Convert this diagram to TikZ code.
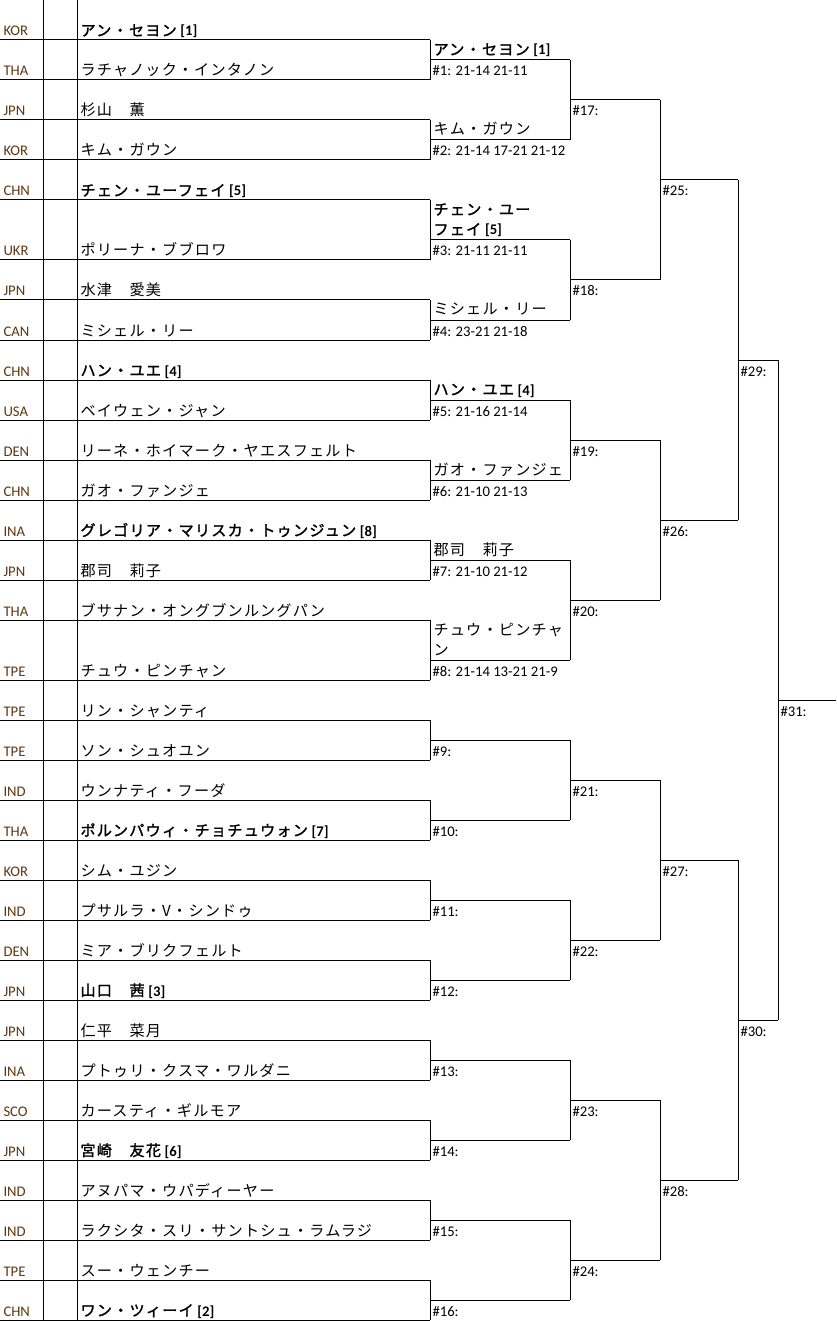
\documentclass[tikz,border=0pt]{standalone}
\usepackage{fontspec}
\setmainfont{Carlito}
\newfontfamily\jp{Noto Sans CJK JP}[LetterSpace=8,Scale=1.03]
\newfontfamily\jpb{Noto Sans CJK JP}[LetterSpace=8,Scale=1.03,FakeBold=1.6]
\definecolor{ctry}{RGB}{95,55,15}
\begin{document}
\begin{tikzpicture}[x=1pt,y=-1pt,line width=1pt,
  lbl/.style={anchor=base west,inner sep=0pt,font=\fontsize{14.7}{17}\selectfont},
  cty/.style={lbl,text=ctry},
  br/.style={draw=black,line width=1pt}]
\useasboundingbox (0,0) rectangle (836,1321);
\draw[br] (43,0) -- (43,1321) (77,0) -- (77,1321);
\foreach \i/\c/\n in {
0/KOR/{{\jpb アン・セヨン}\textbf{\,[1]}},
1/THA/{\jp ラチャノック・インタノン},
2/JPN/{\jp 杉山　薫},
3/KOR/{\jp キム・ガウン},
4/CHN/{{\jpb チェン・ユーフェイ}\textbf{\,[5]}},
5/UKR/{\jp ポリーナ・ブブロワ},
6/JPN/{\jp 水津　愛美},
7/CAN/{\jp ミシェル・リー},
8/CHN/{{\jpb ハン・ユエ}\textbf{\,[4]}},
9/USA/{\jp ベイウェン・ジャン},
10/DEN/{\jp リーネ・ホイマーク・ヤエスフェルト},
11/CHN/{\jp ガオ・ファンジェ},
12/INA/{{\jpb グレゴリア・マリスカ・トゥンジュン}\textbf{\,[8]}},
13/JPN/{\jp 郡司　莉子},
14/THA/{\jp ブサナン・オングブンルングパン},
15/TPE/{\jp チュウ・ピンチャン},
16/TPE/{\jp リン・シャンティ},
17/TPE/{\jp ソン・シュオユン},
18/IND/{\jp ウンナティ・フーダ},
19/THA/{{\jpb ポルンパウィ・チョチュウォン}\textbf{\,[7]}},
20/KOR/{\jp シム・ユジン},
21/IND/{\jp プサルラ・V・シンドゥ},
22/DEN/{\jp ミア・ブリクフェルト},
23/JPN/{{\jpb 山口　茜}\textbf{\,[3]}},
24/JPN/{\jp 仁平　菜月},
25/INA/{\jp プトゥリ・クスマ・ワルダニ},
26/SCO/{\jp カースティ・ギルモア},
27/JPN/{{\jpb 宮崎　友花}\textbf{\,[6]}},
28/IND/{\jp アヌパマ・ウパディーヤー},
29/IND/{\jp ラクシタ・スリ・サントシュ・ラムラジ},
30/TPE/{\jp スー・ウェンチー},
31/CHN/{{\jpb ワン・ツィーイ}\textbf{\,[2]}}}{
  \pgfmathsetmacro\b{40*(\i+1)+20*(\i>4)+20*(\i>14)}
  \node[cty] (c\i) at (3,\b-4) {\c};
  \node[lbl] (p\i) at (80,\b-4) {\n};
  \draw[br] (0,\b) -- (430,\b);
}
% first-round boxes and round-2 lines
\foreach \k in {0,...,15}{
  \pgfmathsetmacro\ta{40*(2*\k+1)+20*(2*\k>4)+20*(2*\k>14)}
  \pgfmathsetmacro\tb{40*(2*\k+2)+20*(2*\k+1>4)+20*(2*\k+1>14)}
  \draw[br] (430,\ta) -- (430,\tb);
  \coordinate (m\k) at (430,\tb-20);
  \draw[br] (m\k) -- ++(140,0);
}
\foreach \k/\s in {0/{21-14 21-11},1/{21-14 17-21 21-12},2/{21-11 21-11},3/{23-21 21-18},
  4/{21-16 21-14},5/{21-10 21-13},6/{21-10 21-12},7/{21-14 13-21 21-9},8/{},9/{},10/{},11/{},12/{},13/{},14/{},15/{}}{
  \pgfmathtruncatemacro\nn{\k+1}
  \node[lbl] (s\k) at ([xshift=2pt,yshift=-16pt]m\k) {\#\nn: \s};
}
% winners of round 1
\node[lbl] (w0) at ([xshift=3pt,yshift=5pt]m0) {{\jpb アン・セヨン}\textbf{\,[1]}};
\node[lbl] (w1) at ([xshift=3pt,yshift=5pt]m1) {\jp キム・ガウン};
\node[lbl] (w2b) at ([xshift=3pt,yshift=5pt]m2) {{\jpb フェイ}\textbf{\,[5]}};
\node[lbl] (w2a) at ([xshift=3pt,yshift=25pt]m2) {\jpb チェン・ユー};
\node[lbl] (w3) at ([xshift=3pt,yshift=5pt]m3) {\jp ミシェル・リー};
\node[lbl] (w4) at ([xshift=3pt,yshift=5pt]m4) {{\jpb ハン・ユエ}\textbf{\,[4]}};
\node[lbl] (w5) at ([xshift=3pt,yshift=5pt]m5) {\jp ガオ・ファンジェ};
\node[lbl] (w6) at ([xshift=3pt,yshift=5pt]m6) {\jp 郡司　莉子};
\node[lbl] (w7b) at ([xshift=3pt,yshift=5pt]m7) {\jp ン};
\node[lbl] (w7a) at ([xshift=3pt,yshift=25pt]m7) {\jp チュウ・ピンチャ};
% round 3 (x=570 -> 660)
\foreach \j/\y in {0/100,1/280,2/440,3/600,4/780,5/940,6/1100,7/1260}{
  \pgfmathtruncatemacro\ka{2*\j}\pgfmathtruncatemacro\kb{2*\j+1}
  \draw[br] ([xshift=140pt]m\ka) -- ([xshift=140pt]m\kb);
  \coordinate (r\j) at (570,\y);
  \draw[br] (r\j) -- (660,\y);
  \pgfmathtruncatemacro\nn{\j+17}
  \node[lbl] (t\j) at (572,\y+16) {\#\nn:};
}
% round 4 (x=660 -> 738)
\foreach \j/\a/\bb/\y in {0/100/280/180,1/440/600/520,2/780/940/860,3/1100/1260/1180}{
  \draw[br] (660,\a) -- (660,\bb);
  \coordinate (q\j) at (660,\y);
  \draw[br] (q\j) -- (738,\y);
  \pgfmathtruncatemacro\nn{\j+25}
  \node[lbl] (u\j) at (662,\y+16) {\#\nn:};
}
% semifinals (x=738 -> 778)
\foreach \j/\a/\bb/\y in {0/180/520/360,1/860/1180/1020}{
  \draw[br] (738,\a) -- (738,\bb);
  \coordinate (h\j) at (738,\y);
  \draw[br] (h\j) -- (778,\y);
  \pgfmathtruncatemacro\nn{\j+29}
  \node[lbl] (v\j) at (740,\y+16) {\#\nn:};
}
% final
\draw[br] (778,360) -- (778,1020);
\coordinate (fin) at (778,700);
\draw[br] (fin) -- (836,700);
\node[lbl] (f31) at (780,716) {\#31:};
\end{tikzpicture}
\end{document}
